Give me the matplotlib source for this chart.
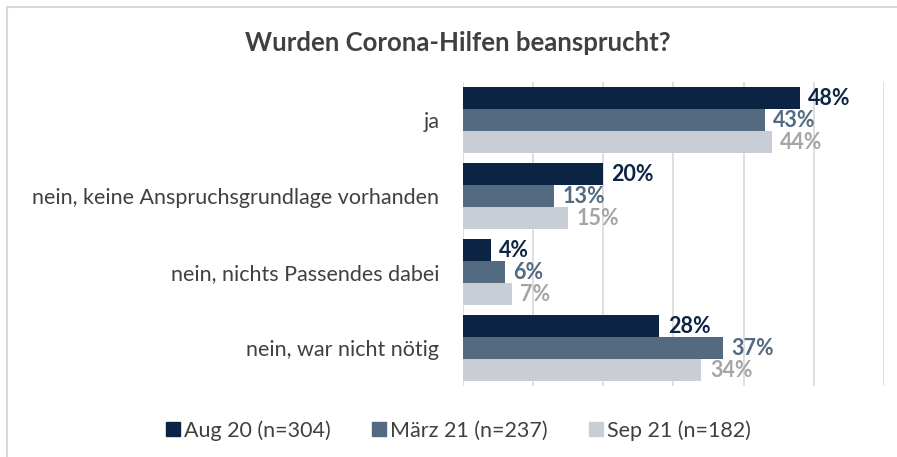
import numpy as np
import matplotlib.pyplot as plt
from matplotlib.lines import Line2D

categories = ['ja', 'nein, keine Anspruchsgrundlage vorhanden',
              'nein, nichts Passendes dabei', 'nein, war nicht nötig']
series = ['Aug 20 (n=304)', 'März 21 (n=237)', 'Sep 21 (n=182)']
aug20 = [48, 20, 4, 28]
maerz21 = [43, 13, 6, 37]
sep21 = [44, 15, 7, 34]

bar_colors = ['#0c2444', '#536a80', '#c9ced6']
label_colors = ['#0c2444', '#536a80', '#a5a5a5']

plt.rcParams['font.family'] = ['Lato', 'DejaVu Sans']

fig = plt.figure(figsize=(8.97, 4.57), dpi=100)
ax = fig.add_axes([0.516, 0.155, 0.4695, 0.665])

y = np.arange(len(categories))
h = 0.29
for i, (vals, name) in enumerate(zip([aug20, maerz21, sep21], series)):
    pos = y + (i - 1) * h
    ax.barh(pos, vals, height=h, color=bar_colors[i], label=name, zorder=2)
    for p, v in zip(pos, vals):
        ax.annotate(f'{v}%', (v, p), xytext=(6, 0), textcoords='offset points',
                    va='center', ha='left', fontsize=15.5, fontweight='bold',
                    color=label_colors[i])

ax.set_xlim(0, 60)
ax.set_ylim(3.5, -0.5)
ax.set_xticks(np.arange(0, 61, 10))
ax.xaxis.grid(True, color='#d9d9d9', linewidth=1.2, zorder=0)
ax.tick_params(axis='x', length=0, labelbottom=False)
ax.tick_params(axis='y', length=0, pad=17)
ax.set_yticks(y)
ax.set_yticklabels(categories, fontsize=15.5, color='#404040')
for s in ax.spines.values():
    s.set_visible(False)

fig.text(0.510, 0.905, 'Wurden Corona-Hilfen beansprucht?',
         ha='center', va='center', fontsize=18.5, fontweight='bold', color='#404040')

handles = [Line2D([], [], marker='s', linestyle='none', markersize=10,
                  markerfacecolor=c, markeredgecolor=c) for c in bar_colors]
fig.legend(handles, series, loc='center', bbox_to_anchor=(0.511, 0.058), ncol=3,
           frameon=False, fontsize=15.5, labelcolor='#404040', handletextpad=0.15,
           columnspacing=1.9, handlelength=0.7)

# light frame lines at top and left
fig.add_artist(Line2D([7 / 897, 1], [1 - 7 / 457] * 2, transform=fig.transFigure,
                      color='#d9d9d9', linewidth=1.5))
fig.add_artist(Line2D([7 / 897] * 2, [0, 1 - 7 / 457], transform=fig.transFigure,
                      color='#d9d9d9', linewidth=1.5))

fig.savefig('out.png', dpi=100)
